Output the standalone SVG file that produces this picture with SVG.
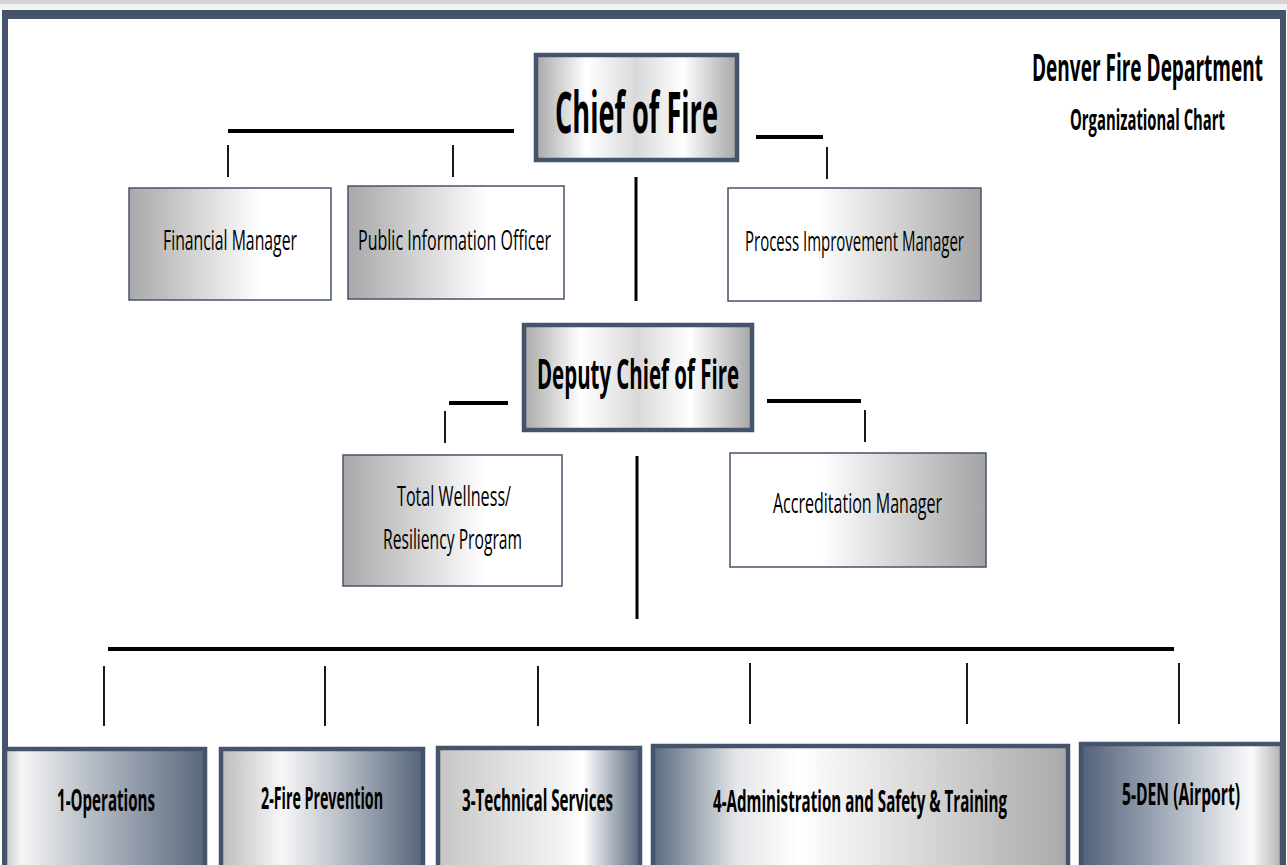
<svg xmlns="http://www.w3.org/2000/svg" width="1287" height="865" viewBox="0 0 1287 865">
<defs>
<linearGradient id="gL" x1="0" y1="0" x2="1" y2="0"><stop offset="0" stop-color="#a8a8a8"/><stop offset="0.65" stop-color="#ffffff"/><stop offset="1" stop-color="#ffffff"/></linearGradient>
<linearGradient id="gR" x1="0" y1="0" x2="1" y2="0"><stop offset="0" stop-color="#ffffff"/><stop offset="0.35" stop-color="#ffffff"/><stop offset="1" stop-color="#a4a4a4"/></linearGradient>
<linearGradient id="gC" x1="0" y1="0" x2="1" y2="0"><stop offset="0" stop-color="#a9a9a9"/><stop offset="0.25" stop-color="#ffffff"/><stop offset="0.5" stop-color="#d9d9d9"/><stop offset="0.73" stop-color="#ffffff"/><stop offset="1" stop-color="#a6a6a6"/></linearGradient>
<linearGradient id="g1" x1="0" y1="0" x2="1" y2="0"><stop offset="0" stop-color="#c6c9ce"/><stop offset="0.08" stop-color="#f6f6f6"/><stop offset="0.35" stop-color="#c4c9d0"/><stop offset="1" stop-color="#5a687d"/></linearGradient>
<linearGradient id="g2" x1="0" y1="0" x2="1" y2="0"><stop offset="0" stop-color="#bcbcbc"/><stop offset="0.3" stop-color="#f7f7f7"/><stop offset="0.55" stop-color="#c3c8cf"/><stop offset="1" stop-color="#56657b"/></linearGradient>
<linearGradient id="g3" x1="0" y1="0" x2="1" y2="0"><stop offset="0" stop-color="#c6c6c6"/><stop offset="0.6" stop-color="#f2f2f2"/><stop offset="0.72" stop-color="#ffffff"/><stop offset="1" stop-color="#5a687d"/></linearGradient>
<linearGradient id="g4" x1="0" y1="0" x2="1" y2="0"><stop offset="0" stop-color="#5a697e"/><stop offset="0.2" stop-color="#e3e5e8"/><stop offset="0.35" stop-color="#ffffff"/><stop offset="1" stop-color="#a9a9a9"/></linearGradient>
<linearGradient id="g5" x1="0" y1="0" x2="1" y2="0"><stop offset="0" stop-color="#52617a"/><stop offset="0.5" stop-color="#b4bbc6"/><stop offset="0.85" stop-color="#fafafa"/><stop offset="1" stop-color="#b0b0b0"/></linearGradient>
</defs>
<style>
text{font-family:"Open Sans","Noto Sans","Liberation Sans",sans-serif;fill:#000}
.b{font-weight:bold}
.thin{stroke:#44546a;stroke-width:1.5}
.thick{stroke:#44546a;stroke-width:4.5}
.ln{stroke:#000;fill:none}
</style>
<rect x="0" y="0" width="1287" height="865" fill="#ffffff"/>
<rect x="0" y="0" width="1287" height="4" fill="#d4d4d4"/>
<rect x="0" y="4" width="1287" height="6" fill="#f3f3f3"/>
<g id="frame" fill="#44546a">
<rect x="2" y="10" width="1284" height="9"/>
<rect x="2" y="10" width="6" height="855"/>
<rect x="1280" y="10" width="6" height="855"/>
</g>
<g id="title">
<text class="b" transform="translate(1032,81) scale(1,2)" font-size="18.5" textLength="231" lengthAdjust="spacingAndGlyphs">Denver Fire Department</text>
<text class="b" transform="translate(1070,130) scale(1,2)" font-size="14" textLength="155" lengthAdjust="spacingAndGlyphs">Organizational Chart</text>
</g>
<g id="connectors" class="ln">
<line x1="228" y1="131" x2="514" y2="131" stroke-width="4"/>
<line x1="228" y1="145" x2="228" y2="177" stroke-width="1.8"/>
<line x1="453" y1="145" x2="453" y2="177" stroke-width="1.8"/>
<line x1="756" y1="137" x2="823" y2="137" stroke-width="4"/>
<line x1="827" y1="147" x2="827" y2="179" stroke-width="1.8"/>
<line x1="636" y1="177" x2="636" y2="301" stroke-width="3"/>
<line x1="449" y1="403" x2="508" y2="403" stroke-width="4"/>
<line x1="445" y1="411" x2="445" y2="443" stroke-width="1.8"/>
<line x1="767" y1="401" x2="861" y2="401" stroke-width="4"/>
<line x1="865" y1="410" x2="865" y2="442" stroke-width="1.8"/>
<line x1="637" y1="456" x2="637" y2="619" stroke-width="3"/>
<line x1="108" y1="649" x2="1174" y2="649" stroke-width="4"/>
<line x1="104" y1="666" x2="104" y2="726" stroke-width="1.8"/>
<line x1="325" y1="666" x2="325" y2="726" stroke-width="1.8"/>
<line x1="538" y1="666" x2="538" y2="726" stroke-width="1.8"/>
<line x1="750" y1="663" x2="750" y2="724" stroke-width="1.8"/>
<line x1="967" y1="663" x2="967" y2="724" stroke-width="1.8"/>
<line x1="1179" y1="663" x2="1179" y2="724" stroke-width="1.8"/>
</g>
<g id="chief">
<rect class="thick" x="536" y="55" width="201" height="105" fill="url(#gC)"/>
<text class="b" transform="translate(555,133) scale(1,2)" font-size="29" textLength="163" lengthAdjust="spacingAndGlyphs">Chief of Fire</text>
</g>
<g id="financial">
<rect class="thin" x="129" y="188" width="202" height="112" fill="url(#gL)"/>
<text transform="translate(163,250) scale(1,2)" font-size="14" textLength="134" lengthAdjust="spacingAndGlyphs">Financial Manager</text>
</g>
<g id="pio">
<rect class="thin" x="348" y="186" width="216" height="113" fill="url(#gL)"/>
<text transform="translate(358,250) scale(1,2)" font-size="14" textLength="193" lengthAdjust="spacingAndGlyphs">Public Information Officer</text>
</g>
<g id="process">
<rect class="thin" x="728" y="188" width="253" height="113" fill="url(#gR)"/>
<text transform="translate(745,251) scale(1,2)" font-size="14" textLength="219" lengthAdjust="spacingAndGlyphs">Process Improvement Manager</text>
</g>
<g id="deputy">
<rect class="thick" x="524" y="325" width="228" height="105" fill="url(#gC)"/>
<text class="b" transform="translate(537,389) scale(1,2)" font-size="21" textLength="202" lengthAdjust="spacingAndGlyphs">Deputy Chief of Fire</text>
</g>
<g id="wellness">
<rect class="thin" x="343" y="455" width="219" height="131" fill="url(#gL)"/>
<text transform="translate(397,506) scale(1,2)" font-size="14" textLength="114" lengthAdjust="spacingAndGlyphs">Total Wellness/</text>
<text transform="translate(383,549) scale(1,2)" font-size="14" textLength="139" lengthAdjust="spacingAndGlyphs">Resiliency Program</text>
</g>
<g id="accreditation">
<rect class="thin" x="730" y="453" width="256" height="114" fill="url(#gR)"/>
<text transform="translate(773,513) scale(1,2)" font-size="14" textLength="169" lengthAdjust="spacingAndGlyphs">Accreditation Manager</text>
</g>
<g id="operations">
<rect class="thick" x="5" y="749" width="200" height="125" fill="url(#g1)"/>
<text class="b" transform="translate(57,811) scale(1,2)" font-size="15" textLength="98" lengthAdjust="spacingAndGlyphs">1-Operations</text>
</g>
<g id="prevention">
<rect class="thick" x="221" y="749" width="202" height="125" fill="url(#g2)"/>
<text class="b" transform="translate(261,809) scale(1,2)" font-size="15" textLength="122" lengthAdjust="spacingAndGlyphs">2-Fire Prevention</text>
</g>
<g id="technical">
<rect class="thick" x="438" y="748" width="202" height="125" fill="url(#g3)"/>
<text class="b" transform="translate(462,811) scale(1,2)" font-size="15" textLength="151" lengthAdjust="spacingAndGlyphs">3-Technical Services</text>
</g>
<g id="administration">
<rect class="thick" x="653" y="746" width="415" height="125" fill="url(#g4)"/>
<text class="b" transform="translate(713,812) scale(1,2)" font-size="15" textLength="294" lengthAdjust="spacingAndGlyphs">4-Administration and Safety &amp; Training</text>
</g>
<g id="den">
<rect class="thick" x="1081" y="744" width="201" height="125" fill="url(#g5)"/>
<text class="b" transform="translate(1122,805) scale(1,2)" font-size="15" textLength="118" lengthAdjust="spacingAndGlyphs">5-DEN (Airport)</text>
</g>
</svg>
